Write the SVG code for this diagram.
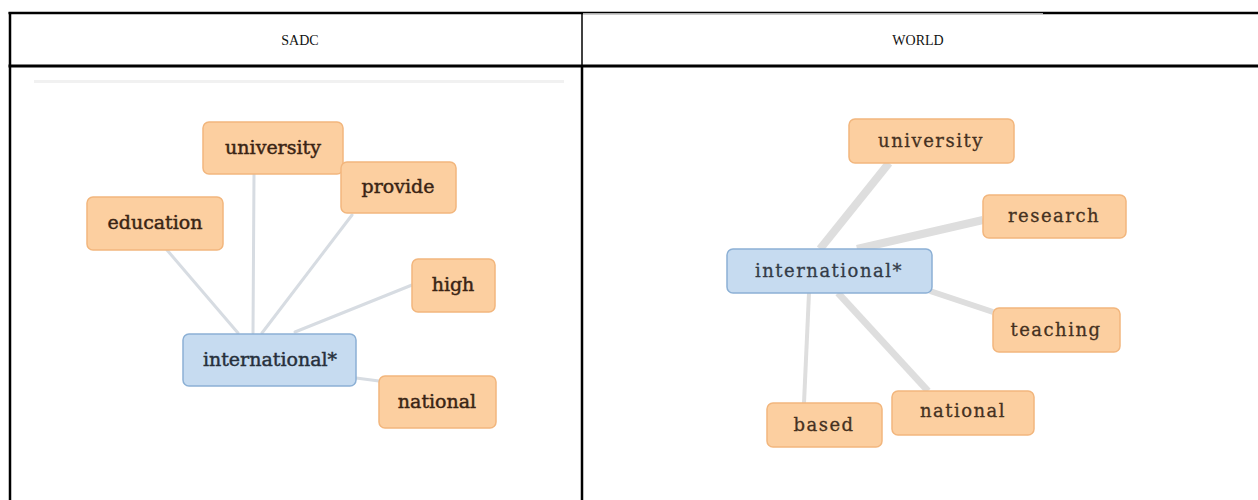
<svg xmlns="http://www.w3.org/2000/svg" width="1258" height="500" viewBox="0 0 1258 500">
<style>
.bg{fill:#ffffff}
.tb{stroke:#000;fill:none}
.hd{font-family:"Liberation Serif","Times New Roman",serif;font-size:14px;fill:#111;text-anchor:middle}
.on{fill:#fccfa0;stroke:#f2b67d;stroke-width:1.5}
.bn{fill:#c6dbf0;stroke:#8cb0d5;stroke-width:1.5}
.tl{font-family:"DejaVu Serif",serif;font-size:19px;fill:#3a2414;stroke:#3a2414;stroke-width:0.45;text-anchor:middle}
.tlb{font-family:"DejaVu Serif",serif;font-size:19px;fill:#27303c;stroke:#27303c;stroke-width:0.45;text-anchor:middle}
.tr{font-family:"DejaVu Serif",serif;font-size:18px;letter-spacing:1.5px;fill:#45311f;stroke:#45311f;stroke-width:0.3;text-anchor:middle}
.trb{font-family:"DejaVu Serif",serif;font-size:18px;letter-spacing:1.5px;fill:#333b47;stroke:#333b47;stroke-width:0.3;text-anchor:middle}
.el{stroke:#d7dce2;stroke-width:3;stroke-linecap:round;fill:none}
.er{stroke:#dedede;stroke-linecap:butt;fill:none}
</style>
<rect class="bg" x="0" y="0" width="1258" height="500"/>
<g id="table">
<line class="tb" x1="8.5" y1="13" x2="583" y2="13" stroke-width="2.5"/>
<line class="tb" x1="583" y1="12.5" x2="1043" y2="12.5" stroke-width="1.5"/>
<line x1="583" y1="14" x2="1043" y2="14" stroke="#9a9a9a" stroke-width="1"/>
<line class="tb" x1="1043" y1="13" x2="1258" y2="13" stroke-width="2.5"/>
<line class="tb" x1="8.5" y1="66" x2="1258" y2="66" stroke-width="3"/>
<line class="tb" x1="10" y1="12" x2="10" y2="500" stroke-width="2.5"/>
<line class="tb" x1="582" y1="12" x2="582" y2="66" stroke-width="1.5"/>
<line class="tb" x1="582" y1="66" x2="582" y2="500" stroke-width="2.5"/>
<text class="hd" x="300" y="45">SADC</text>
<text class="hd" x="918" y="45">WORLD</text>
</g>
<rect x="34" y="80" width="530" height="3" fill="#f1f1f1"/>
<g id="connectors">
<line class="el" x1="167" y1="250" x2="238" y2="333"/>
<line class="el" x1="254" y1="174" x2="253" y2="333"/>
<line class="el" x1="352" y1="215" x2="262" y2="333"/>
<line class="el" x1="412" y1="285" x2="295" y2="332"/>
<line class="el" x1="356" y1="378" x2="379" y2="381" stroke-width="2"/>
<line class="er" x1="889" y1="163" x2="820" y2="249" stroke-width="8"/>
<line class="er" x1="983" y1="220" x2="857" y2="249" stroke-width="8"/>
<line class="er" x1="930" y1="291" x2="993" y2="312" stroke-width="6"/>
<line class="er" x1="809" y1="293" x2="804" y2="403" stroke-width="4"/>
<line class="er" x1="838" y1="293" x2="928" y2="391" stroke-width="7"/>
</g>
<g id="l-education"><rect class="on" x="87" y="197" width="136" height="53" rx="6"/><text class="tl" x="155" y="229">education</text></g>
<g id="l-university"><rect class="on" x="203" y="122" width="140" height="52" rx="6"/><text class="tl" x="273" y="154">university</text></g>
<g id="l-provide"><rect class="on" x="341" y="162" width="115" height="51" rx="6"/><text class="tl" x="398" y="193">provide</text></g>
<g id="l-high"><rect class="on" x="412" y="259" width="83" height="53" rx="6"/><text class="tl" x="453" y="291">high</text></g>
<g id="l-international"><rect class="bn" x="183" y="334" width="173" height="52" rx="6"/><text class="tlb" x="270" y="366">international*</text></g>
<g id="l-national"><rect class="on" x="379" y="376" width="117" height="52" rx="6"/><text class="tl" x="437" y="408">national</text></g>
<g id="r-university"><rect class="on" x="849" y="119" width="165" height="44" rx="6"/><text class="tr" x="931" y="147">university</text></g>
<g id="r-research"><rect class="on" x="983" y="195" width="143" height="43" rx="6"/><text class="tr" x="1054" y="222">research</text></g>
<g id="r-international"><rect class="bn" x="727" y="249" width="205" height="44" rx="6"/><text class="trb" x="829" y="277">international*</text></g>
<g id="r-teaching"><rect class="on" x="993" y="308" width="127" height="44" rx="6"/><text class="tr" x="1056" y="336">teaching</text></g>
<g id="r-based"><rect class="on" x="767" y="403" width="115" height="44" rx="6"/><text class="tr" x="824" y="431">based</text></g>
<g id="r-national"><rect class="on" x="892" y="391" width="142" height="44" rx="6"/><text class="tr" x="963" y="417">national</text></g>
</svg>
